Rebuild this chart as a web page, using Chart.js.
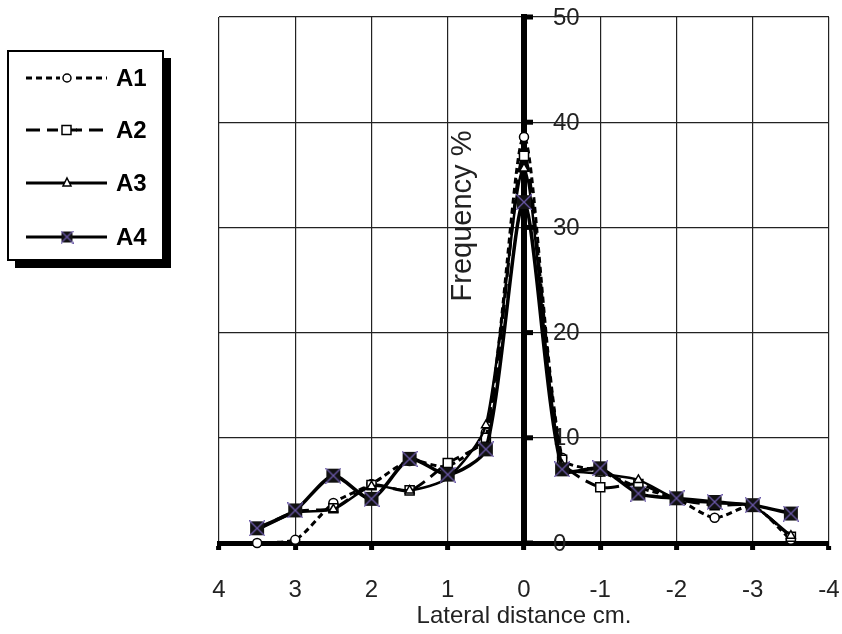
<!DOCTYPE html>
<html>
<head>
<title>Lateral distance</title>
<script src="https://cdn.jsdelivr.net/npm/chart.js@4/dist/chart.umd.min.js"></script>
<style>
  body { margin: 0; background: #fff; }
</style>
</head>
<body>
<canvas id="myChart" width="842" height="634"></canvas>
<script>
// lateral positions (cm) and frequency (%) per treatment
var distance = [3.5, 3, 2.5, 2, 1.5, 1, 0.5, 0, -0.5, -1, -1.5, -2, -2.5, -3, -3.5];
var a1 = [0, 0.3, 3.8, 5.6, 7.8, 7.3, 10.5, 38.6, 8.1, 6.8, 5.3, 4.2, 2.4, 3.5, 0.3];
var a2 = [1.3, 3.0, 3.3, 5.5, 5.0, 7.6, 10.0, 36.8, 7.9, 5.3, 5.6, 4.2, 3.6, 3.5, 0.6];
var a3 = [1.2, 2.9, 3.2, 5.4, 5.0, 6.2, 11.2, 35.6, 7.4, 6.6, 6.0, 4.2, 3.8, 3.5, 0.7];
var a4 = [1.4, 3.1, 6.4, 4.2, 8.0, 6.5, 8.9, 32.4, 7.0, 7.1, 4.7, 4.25, 3.9, 3.6, 2.8];
var seriesNames = ['A1', 'A2', 'A3', 'A4'];

var axisFont = "'Liberation Sans', Arial, sans-serif";

function toPoints(vals) {
    var pts = [];
    for (var i = 0; i < vals.length; i++) {
        pts.push({x: distance[i], y: vals[i]});
    }
    return pts;
}

// black square with a purple cross, like the A4 marker
function crossBox(size) {
    var c = document.createElement('canvas');
    c.width = size + 2;
    c.height = size + 2;
    var g = c.getContext('2d');
    g.fillStyle = '#111';
    g.fillRect(1, 1, size, size);
    g.strokeStyle = '#6a58a8';
    g.lineWidth = 1.3;
    g.beginPath();
    g.moveTo(0, 0); g.lineTo(size + 2, size + 2);
    g.moveTo(size + 2, 0); g.lineTo(0, size + 2);
    g.stroke();
    return c;
}

var bigCross = crossBox(14);
var smallCross = crossBox(11);

var chartdata = {
    datasets: [
        {label: seriesNames[0], data: toPoints(a1), borderColor: '#000', borderWidth: 3, borderDash: [6, 4],
         pointStyle: 'circle', pointRadius: 4.5, pointBackgroundColor: '#fff', pointBorderColor: '#000', pointBorderWidth: 1.5, order: 4},
        {label: seriesNames[1], data: toPoints(a2), borderColor: '#000', borderWidth: 3, borderDash: [14, 7],
         pointStyle: 'rect', pointRadius: 6.4, pointBackgroundColor: '#fff', pointBorderColor: '#000', pointBorderWidth: 1.5, order: 3},
        {label: seriesNames[2], data: toPoints(a3), borderColor: '#000', borderWidth: 2.5,
         pointStyle: 'triangle', pointRadius: 5, pointBackgroundColor: '#fff', pointBorderColor: '#000', pointBorderWidth: 1.5, order: 2},
        {label: seriesNames[3], data: toPoints(a4), borderColor: '#000', borderWidth: 3.5,
         pointStyle: bigCross, pointRadius: 8, order: 1}
    ]
};

// y tick labels and tick marks sit on the right of the axis at x = 0 (under the lines)
var yAxisExtras = {
    id: 'yAxisExtras',
    beforeDatasetsDraw: function (chart) {
        var ctx = chart.ctx;
        var xs = chart.scales.x, ys = chart.scales.y;
        var x0 = xs.getPixelForValue(0);
        ctx.save();
        ctx.font = '24px ' + axisFont;
        ctx.textAlign = 'left';
        ctx.textBaseline = 'middle';
        ys.ticks.forEach(function (t) {
            var y = ys.getPixelForValue(t.value);
            ctx.fillStyle = '#000';
            ctx.fillRect(x0, y - 2.5, 9, 5);
            ctx.fillStyle = '#222';
            ctx.fillText(String(t.value), x0 + 29, y + 1);
        });
        // axis title, inside the plot to the left of the axis
        ctx.font = '29px ' + axisFont;
        ctx.translate(x0 - 61, (ys.top + ys.bottom) / 2 - 64);
        ctx.rotate(-Math.PI / 2);
        ctx.textAlign = 'center';
        ctx.fillStyle = '#222';
        ctx.fillText('Frequency %', 0, 0);
        ctx.restore();
    }
};

// boxed legend with drop shadow, top left
var boxLegend = {
    id: 'boxLegend',
    afterDraw: function (chart) {
        var ctx = chart.ctx;
        ctx.save();
        ctx.fillStyle = '#000';
        ctx.fillRect(15, 58, 156, 210);
        ctx.fillStyle = '#fff';
        ctx.fillRect(8, 51, 155, 209);
        ctx.strokeStyle = '#000';
        ctx.lineWidth = 2;
        ctx.strokeRect(8, 51, 155, 209);
        var rows = [78, 130, 183, 237];
        chart.data.datasets.forEach(function (ds, i) {
            var y = rows[i];
            ctx.strokeStyle = '#000';
            ctx.lineWidth = 3;
            ctx.setLineDash(ds.borderDash || []);
            ctx.beginPath();
            ctx.moveTo(26, y);
            ctx.lineTo(107, y);
            ctx.stroke();
            ctx.setLineDash([]);
            ctx.lineWidth = 1.5;
            ctx.fillStyle = '#fff';
            if (ds.pointStyle === 'circle') {
                ctx.clearRect(60, y - 5, 14, 10);
                ctx.beginPath();
                ctx.arc(67, y, 4, 0, Math.PI * 2);
                ctx.fill(); ctx.stroke();
            } else if (ds.pointStyle === 'rect') {
                ctx.clearRect(58, y - 5, 18, 10);
                ctx.fillRect(62, y - 4.5, 9, 9);
                ctx.strokeRect(62, y - 4.5, 9, 9);
                ctx.lineWidth = 3;
                ctx.beginPath(); ctx.moveTo(71, y); ctx.lineTo(77, y); ctx.stroke();
            } else if (ds.pointStyle === 'triangle') {
                ctx.beginPath();
                ctx.moveTo(67, y - 5); ctx.lineTo(71, y + 3); ctx.lineTo(63, y + 3);
                ctx.closePath();
                ctx.fill(); ctx.stroke();
            } else {
                ctx.drawImage(smallCross, 67 - 6.5, y - 6.5);
            }
            ctx.fillStyle = '#000';
            ctx.font = 'bold 24px "Liberation Sans", Arial, sans-serif';
            ctx.textAlign = 'left';
            ctx.textBaseline = 'middle';
            ctx.fillText(ds.label, 116, y + 1);
        });
        ctx.restore();
    }
};

var chart = new Chart(document.getElementById('myChart'), {
    type: 'line',
    data: chartdata,
    options: {
        responsive: false,
        animation: false,
        devicePixelRatio: 1,
        layout: {padding: {left: 219, right: 13, top: 17, bottom: 0}},
        elements: {line: {tension: 0.25, fill: false}},
        datasets: {line: {clip: false}},
        plugins: {legend: {display: false}, tooltip: {enabled: false}},
        scales: {
            x: {
                type: 'linear', min: -4, max: 4, reverse: true,
                ticks: {stepSize: 1, color: '#222', padding: 28, maxRotation: 0,
                        font: {family: axisFont, size: 24, lineHeight: 1}},
                grid: {color: '#222', lineWidth: 1.2, tickLength: 7, tickWidth: 5, tickColor: '#000'},
                border: {color: '#000', width: 5},
                title: {display: true, text: 'Lateral distance cm.', color: '#222',
                        font: {family: axisFont, size: 24, lineHeight: 1}, padding: {top: 0, bottom: 6}},
                afterFit: function (s) {
                    // reversed scale confuses the edge-label padding; fix the box instead
                    s.paddingLeft = 0;
                    s.paddingRight = 0;
                    s.height = 91;
                }
            },
            y: {
                min: 0, max: 50, position: {x: 0},
                ticks: {stepSize: 10, display: false},
                grid: {color: '#222', lineWidth: 1.2, drawTicks: false},
                border: {color: '#000', width: 6}
            }
        }
    },
    plugins: [yAxisExtras, boxLegend]
});
</script>
</body>
</html>
